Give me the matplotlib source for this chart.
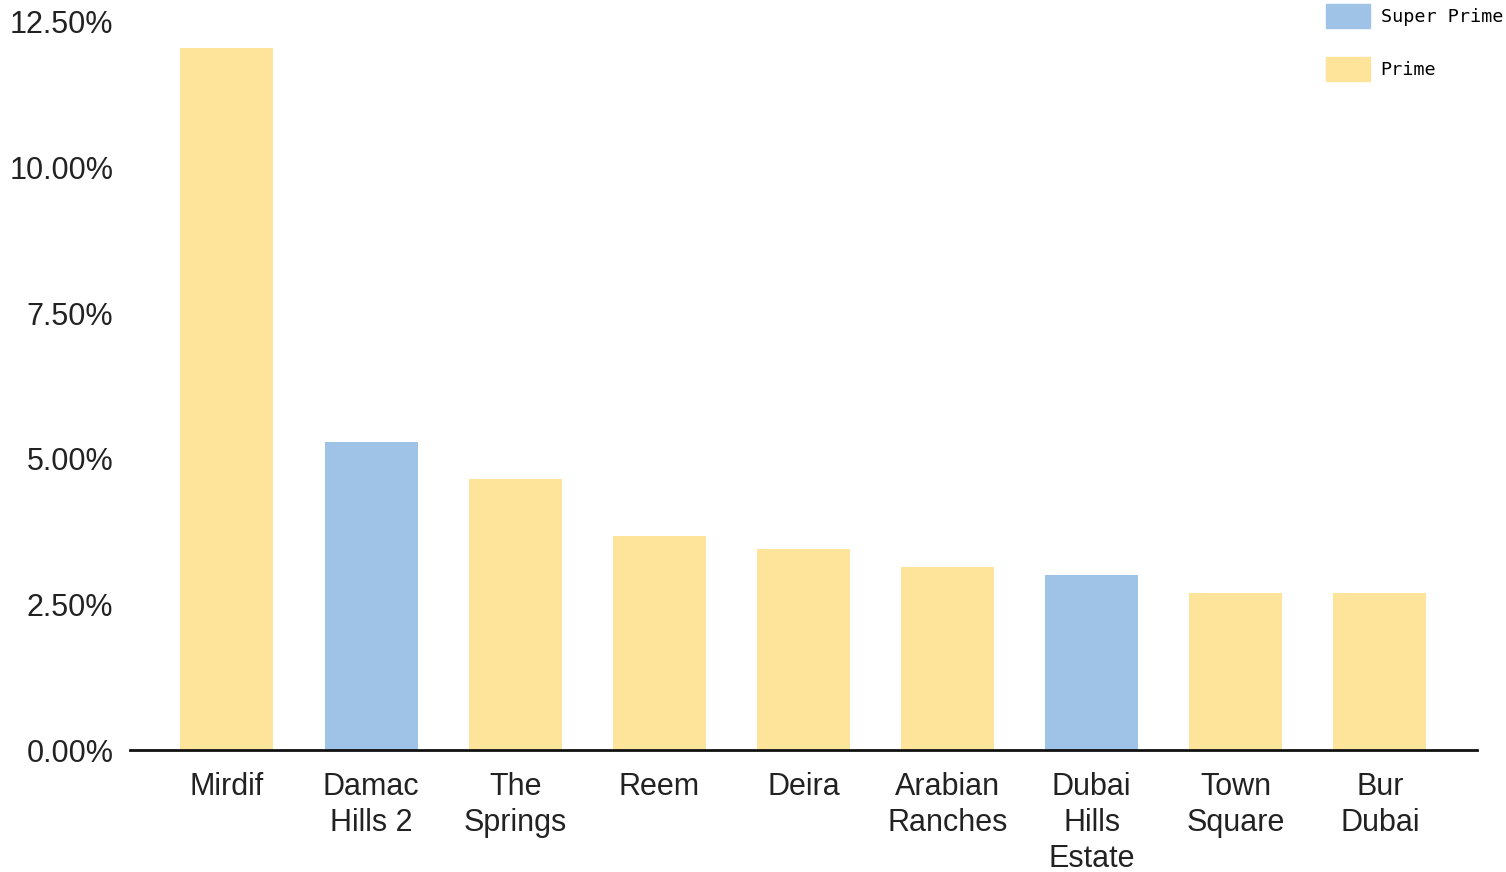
import matplotlib.pyplot as plt
from matplotlib.patches import Patch

areas = ["Mirdif", "Damac\nHills 2", "The\nSprings", "Reem", "Deira",
         "Arabian\nRanches", "Dubai\nHills\nEstate", "Town\nSquare", "Bur\nDubai"]
values = [12.05, 5.29, 4.65, 3.67, 3.45, 3.14, 3.00, 2.70, 2.70]
segment = ["Prime", "Super Prime", "Prime", "Prime", "Prime",
           "Prime", "Super Prime", "Prime", "Prime"]
yticks = [0, 2.5, 5, 7.5, 10, 12.5]

colors = {"Super Prime": "#9fc3e7", "Prime": "#fde49a"}

plt.rcParams['font.family'] = ['Liberation Sans', 'DejaVu Sans']

fig = plt.figure(figsize=(15.06, 8.72), dpi=100)
ax = fig.add_axes([0.0863, 0.1399, 0.8944, 0.8349])

x = range(len(areas))
ax.bar(x, values, width=0.645, color=[colors[s] for s in segment], zorder=2)

ax.set_xlim(-0.673, 8.673)
ax.set_ylim(0, 12.5)
ax.set_yticks(yticks)
ax.set_yticklabels(["%.2f%%" % v for v in yticks])
ax.set_xticks(list(x))
ax.set_xticklabels(areas, linespacing=1.26)
ax.tick_params(axis='y', length=0, pad=12, labelsize=22, colors='#222222')
ax.tick_params(axis='x', length=0, pad=16, labelsize=22, colors='#222222')

for s in ['top', 'right', 'left']:
    ax.spines[s].set_visible(False)
ax.spines['bottom'].set_linewidth(2)
ax.spines['bottom'].set_color('#111111')
ax.spines['bottom'].set_zorder(3)

handles = [Patch(color=colors["Super Prime"], label="Super Prime"),
           Patch(color=colors["Prime"], label="Prime")]
fig.legend(handles=handles, loc='upper left', bbox_to_anchor=(0.8805, 0.9954),
           frameon=False, borderpad=0, borderaxespad=0,
           prop={'family': 'DejaVu Sans Mono', 'size': 13.3},
           handlelength=2.4, handleheight=1.6, handletextpad=0.55,
           labelspacing=1.6)

fig.savefig("out.png", dpi=100)
